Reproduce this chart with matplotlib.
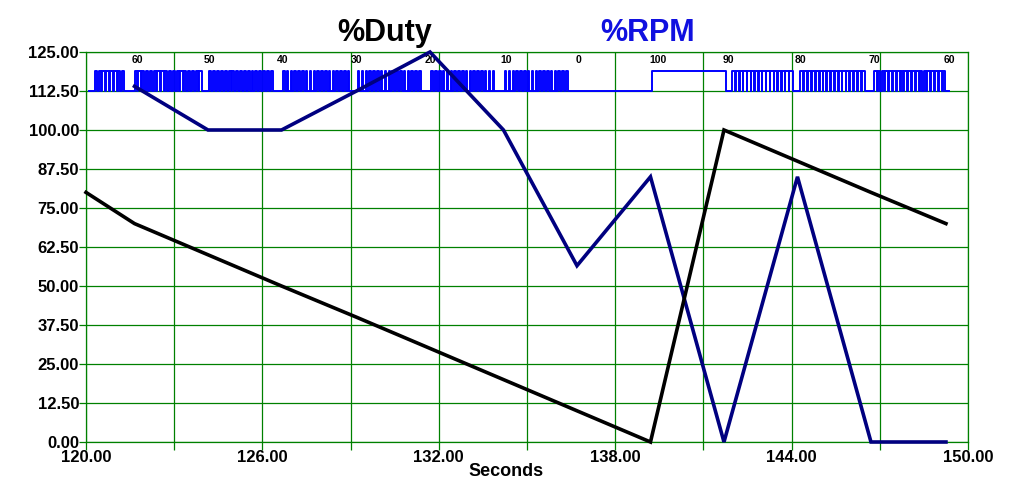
import numpy as np
import matplotlib
matplotlib.use('Agg')
import matplotlib.pyplot as plt

plt.rcParams['font.family'] = ['Liberation Sans', 'DejaVu Sans']

#Sample times (seconds) where the set points change
times = [121.65, 124.15, 126.65, 129.2, 131.7, 134.2, 136.7, 139.2, 141.7, 144.2, 146.7, 149.25]

#%Duty (black) - starts at 120 s
duty_t = [120.0] + times
duty = [80, 70, 60, 50, 40, 30, 20, 10, 0, 100, 90, 80, 70]

#%RPM (navy)
rpm = [114, 100, 100, 112.5, 125, 100, 56.5, 85, 0, 85, 0, 0]

#PWM labels shown along the top band
pwm_labels = ['60', '50', '40', '30', '20', '10', '0', '100', '90', '80', '70', '60']
pwm_label_t = [121.75, 124.2, 126.7, 129.2, 131.7, 134.3, 136.75, 139.45, 141.85, 144.3, 146.8, 149.35]

#PWM band segments: start of each segment and its duty (%)
seg_start = [120.1, 121.45, 124.0, 126.5, 129.05, 131.55, 134.05, 136.55, 139.25, 141.77, 144.1, 146.6]
seg_duty = [70, 60, 50, 40, 30, 20, 10, 0, 100, 90, 80, 70]
seg_end_last = 149.35
pwm_period = 0.13
pwm_gap = 0.2
band_low, band_high = 112.5, 119.0

green = '#008000'

fig = plt.figure(figsize=(10.23, 4.95), dpi=100)
ax = fig.add_axes([86/1023, 53/495, 882/1023, 390/495])

#Build the pulse train
px, py = [], []
ends = seg_start[1:] + [seg_end_last]
for a, b, d in zip(seg_start, ends, seg_duty):
    if d == 0:
        px += [a, b]; py += [band_low, band_low]
    elif d == 100:
        px += [a, b]; py += [band_high, band_high]
    else:
        px += [a, a + pwm_gap]; py += [band_low, band_low]
        c = a + pwm_gap
        on = pwm_period * max(d, 40) / 100.0
        while c + pwm_period <= b:
            px += [c, c, c + on, c + on, c + pwm_period]
            py += [band_low, band_high, band_high, band_low, band_low]
            c += pwm_period
        px += [c, b]; py += [band_low, band_low]
ax.plot(px, py, color='#0000ff', lw=1.4, zorder=3)

for lab, t in zip(pwm_labels, pwm_label_t):
    ax.text(t, 122.4, lab, fontsize=7.5, fontweight='bold', ha='center', va='center')

ax.plot(times, rpm, color='#000080', lw=2.6, zorder=4, clip_on=False, solid_joinstyle='miter')
ax.plot(duty_t, duty, color='black', lw=2.6, zorder=5, clip_on=False, solid_joinstyle='miter')

ax.set_xlim(120, 150)
ax.set_ylim(0, 125)
ax.set_xticks(np.arange(120, 150.1, 6))
ax.set_xticks(np.arange(123, 150, 6), minor=True)
ax.set_yticks(np.arange(0, 125.1, 12.5))
ax.set_xticklabels(['%.2f' % v for v in np.arange(120, 150.1, 6)])
ax.set_yticklabels(['%.2f' % v for v in np.arange(0, 125.1, 12.5)])
ax.grid(True, which='both', color=green, lw=0.9)
ax.set_axisbelow(True)
for s in ax.spines.values():
    s.set_color(green)
    s.set_linewidth(0.9)
ax.tick_params(axis='x', which='both', direction='out', length=6, color=green, width=0.9,
               labelsize=12, pad=0)
ax.tick_params(axis='y', direction='out', length=5, color=green, width=0.9, labelsize=12, pad=0)
for lbl in ax.get_xticklabels() + ax.get_yticklabels():
    lbl.set_fontweight('bold')

fig.text(506/1023, 1 - 472/495, 'Seconds', fontsize=13, fontweight='bold', ha='center', va='center')
fig.text(385/1023, 1 - 33/495, '%Duty', fontsize=22, fontweight='bold', ha='center', va='center', color='black')
fig.text(648/1023, 1 - 33/495, '%RPM', fontsize=22, fontweight='bold', ha='center', va='center', color='#1010e0')

fig.savefig('out.png', dpi=100)
